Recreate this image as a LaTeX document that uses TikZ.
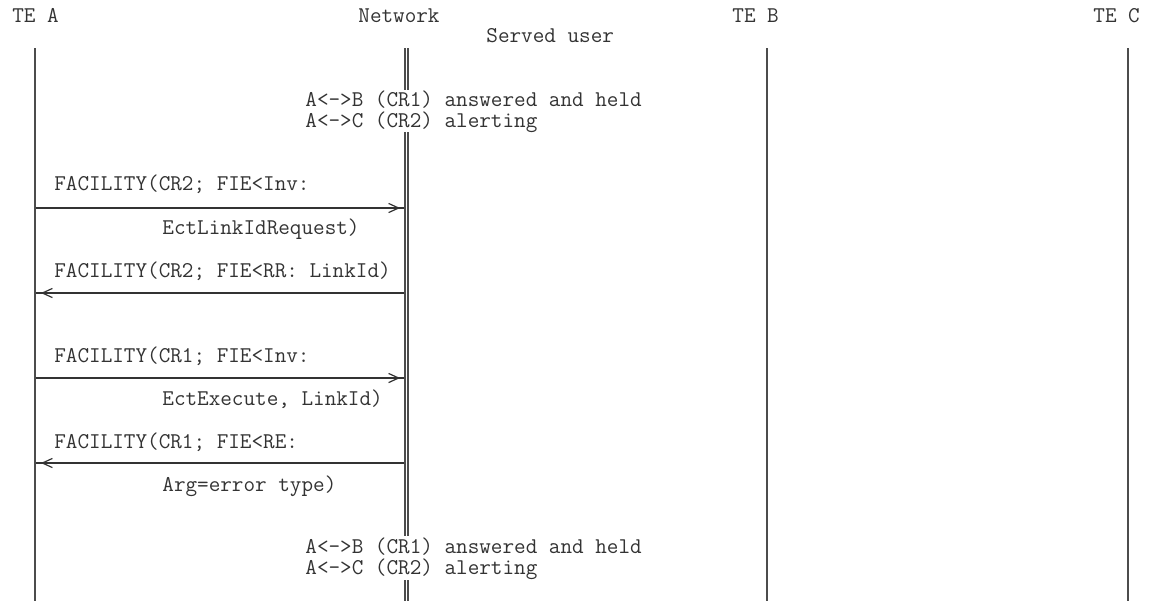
\documentclass[tikz,border=0pt]{standalone}
\usepackage{fontspec}
\usetikzlibrary{arrows.meta}
\usetikzlibrary{calc}

\tikzset{
	msgtext/.style={anchor=base west, inner sep=0pt, text=black!80,
		text height=7pt, text depth=1.8pt,
		font=\ttfamily\fontsize{11.26}{13}\selectfont},
	life/.style={draw=black!70, line width=1.1pt},
	netlife/.style={draw=black!70, line width=0.55pt, double, double distance=0.95pt},
	msg/.style={draw=black!80, line width=0.6pt},
	msgtip/.style={msg, -{Straight Barb[length=5pt, width=4.6pt, line width=0.6pt]}},
}

\begin{document}
\begin{tikzpicture}[x=0.5pt, y=-0.5pt]
	\useasboundingbox (0,0) rectangle (1150,601);
	
	\def\xa{35} % TE A
	\def\xn{406.5} % network
	\def\xb{767} % TE B
	\def\xc{1128} % TE C
	\def\top{48} % top of lifelines
	\def\bot{601} % bottom of lifelines
	
	% headers
	\node[msgtext] (tea) at (12,22) {TE A};
	\node[msgtext] (net) at (358,22) {Network};
	\node[msgtext] (teb) at (732,22) {TE B};
	\node[msgtext] (tec) at (1093,22) {TE C};
	\node[msgtext] (served) at (486,42) {Served user};
	
	% lifeline ends
	\coordinate (la) at (\xa,\top);
	\coordinate (la2) at (\xa,\bot);
	\coordinate (lb) at (\xb,\top);
	\coordinate (lb2) at (\xb,\bot);
	\coordinate (lc) at (\xc,\top);
	\coordinate (lc2) at (\xc,\bot);
	\coordinate (ln) at (\xn,\top);
	
	% state before
	\node[msgtext] (st1) at (305,106) {A<->B (CR1) answered and held};
	\node[msgtext] (st2) at (305,127) {A<->C (CR2) alerting};
	
	% message rows
	\coordinate (m1) at (0,208);
	\coordinate (m2) at (0,293);
	\coordinate (m3) at (0,378);
	\coordinate (m4) at (0,463);
	
	% link id request
	\node[msgtext] (f1) at (54,190) {FACILITY(CR2; FIE<Inv:};
	\draw[msg] (la |- m1) -- (ln |- m1);
	\draw[msgtip] (la |- m1) -- ($(ln |- m1)+(-6.5,0)$);
	\node[msgtext] (f1b) at (162,234) {EctLinkIdRequest)};
	
	% link id result
	\node[msgtext] (f2) at (54,277) {FACILITY(CR2; FIE<RR: LinkId)};
	\draw[msg] (ln |- m2) -- (la |- m2);
	\draw[msgtip] (ln |- m2) -- ($(la |- m2)+(6,0)$);
	
	% execute
	\node[msgtext] (f3) at (54,362) {FACILITY(CR1; FIE<Inv:};
	\draw[msg] (la |- m3) -- (ln |- m3);
	\draw[msgtip] (la |- m3) -- ($(ln |- m3)+(-6.5,0)$);
	\node[msgtext] (f3b) at (162,405) {EctExecute, LinkId)};
	
	% return error
	\node[msgtext] (f4) at (54,448) {FACILITY(CR1; FIE<RE:};
	\draw[msg] (ln |- m4) -- (la |- m4);
	\draw[msgtip] (ln |- m4) -- ($(la |- m4)+(6,0)$);
	\node[msgtext] (f4b) at (162,491) {Arg=error type)};
	
	% state after
	\node[msgtext] (st3) at (305,553) {A<->B (CR1) answered and held};
	\node[msgtext] (st4) at (305,574) {A<->C (CR2) alerting};
	
	% lifelines
	\draw[life] (la) -- (la2);
	\draw[life] (lb) -- (lb2);
	\draw[life] (lc) -- (lc2);
	\draw[netlife] (ln) -- (\xn,90);
	\draw[netlife] (\xn,132) -- (\xn,536);
	\draw[netlife] (\xn,580) -- (\xn,\bot);
\end{tikzpicture}
\end{document}
